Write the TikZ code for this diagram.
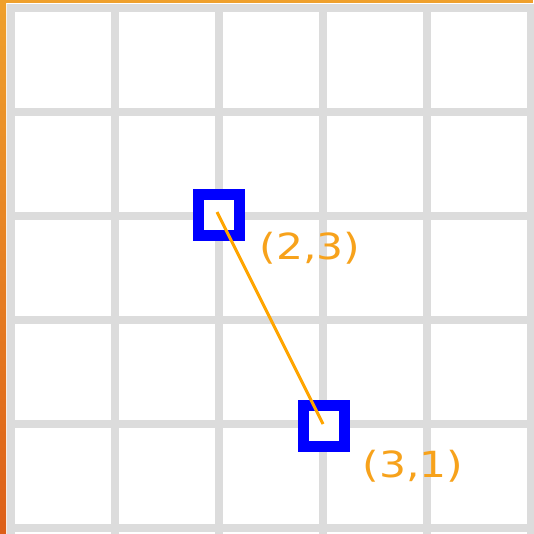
\documentclass[tikz,border=0pt]{standalone}
\usepackage{fontspec}
\setmainfont{DejaVu Sans}
\definecolor{gridgray}{HTML}{DCDCDC}
\definecolor{ptblue}{HTML}{0000FF}
\definecolor{lineorange}{HTML}{FFA500}
\definecolor{labelorange}{HTML}{F7A21B}
\definecolor{frametop}{HTML}{EFA02C}
\definecolor{framebot}{HTML}{DD5F18}
\tikzset{
  gridline/.style={draw=gridgray, line width=8pt},
  ptbox/.style={draw=ptblue, line width=11pt, minimum size=41pt, inner sep=0pt, fill=white},
  ptlabel/.style={text=labelorange, font=\fontsize{36}{40}\selectfont, inner sep=0pt, xscale=1.18},
  link/.style={draw=lineorange, line width=3pt}
}
\begin{document}
\begin{tikzpicture}[x=1pt,y=-1pt]
\useasboundingbox (0,0) rectangle (533,534);
\fill[white] (0,0) rectangle (533,534);
% grid
\foreach \x in {11,115,219,323,427,531} \draw[gridline] (\x,4) -- (\x,536);
\foreach \y in {8,112,216,320,424,528} \draw[gridline] (7,\y) -- (537,\y);
% frame
\fill[frametop] (0,0) rectangle (533,3);
\shade[top color=frametop, bottom color=framebot] (0,0) rectangle (6,534);
% points
\node[ptbox] (a) at (219,215) {};
\node[ptbox] (b) at (324,426) {};
\draw[link] ([shift={(-2,-3)}]a.center) -- ([shift={(-1,-2)}]b.center);
\node[ptlabel] (la) at (310,248) {(2,3)};
\node[ptlabel] (lb) at (413,466) {(3,1)};
\end{tikzpicture}
\end{document}
